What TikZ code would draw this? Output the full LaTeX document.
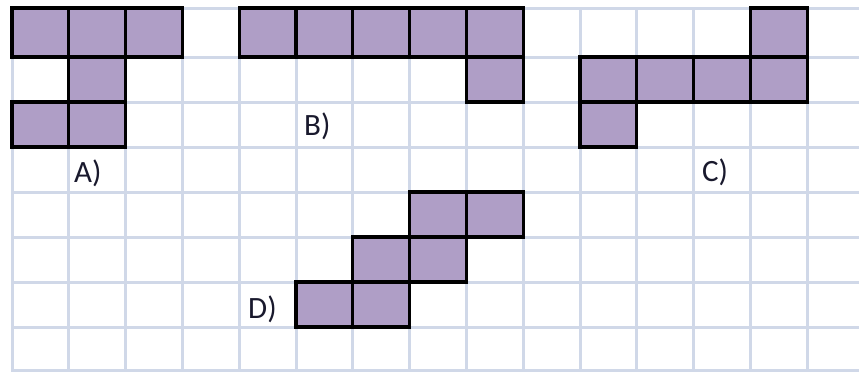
\documentclass[tikz,border=0pt]{standalone}
\usepackage{fontspec}
\setmainfont{Carlito}
\definecolor{gridc}{RGB}{208,216,232}
\definecolor{cellc}{RGB}{175,158,198}
\definecolor{labc}{RGB}{25,25,45}
\begin{document}
\begin{tikzpicture}[x=1pt,y=-1pt,
  cellfill/.style={fill=cellc},
  celledge/.style={draw=black,line width=3.3pt,line join=miter},
  gridline/.style={draw=gridc,line width=3pt},
  lab/.style={anchor=base west,inner sep=0pt,font=\fontsize{31}{37}\selectfont,text=labc}]
\useasboundingbox (0,0) rectangle (859,372);
% grid
\foreach \k in {0,...,14} \draw[gridline] ({12+56.8*\k},8) -- ({12+56.8*\k},372);
\foreach \y in {8,57,102,147,192,237,282,327,370} \draw[gridline] (12,\y) -- (859,\y);
% cells: column/top/bottom
\def\cells{0/8/57,1/8/57,2/8/57,1/57/102,0/102/147,1/102/147,
  4/8/57,5/8/57,6/8/57,7/8/57,8/8/57,8/57/102,
  13/8/57,10/57/102,11/57/102,12/57/102,13/57/102,10/102/147,
  7/192/237,8/192/237,6/237/282,7/237/282,5/282/327,6/282/327}
\foreach \c/\t/\b in \cells
  \fill[cellfill] ({12+56.8*\c},\t) rectangle ({12+56.8*(\c+1)},\b);
\foreach \c/\t/\b in \cells
  \draw[celledge] ({12+56.8*\c},\t) rectangle ({12+56.8*(\c+1)},\b);
% labels
\node[lab] (la) at (74,182) {A)};
\node[lab] (lb) at (304,135) {B)};
\node[lab] (lc) at (702,181) {C)};
\node[lab] (ld) at (248,318) {D)};
\end{tikzpicture}
\end{document}
